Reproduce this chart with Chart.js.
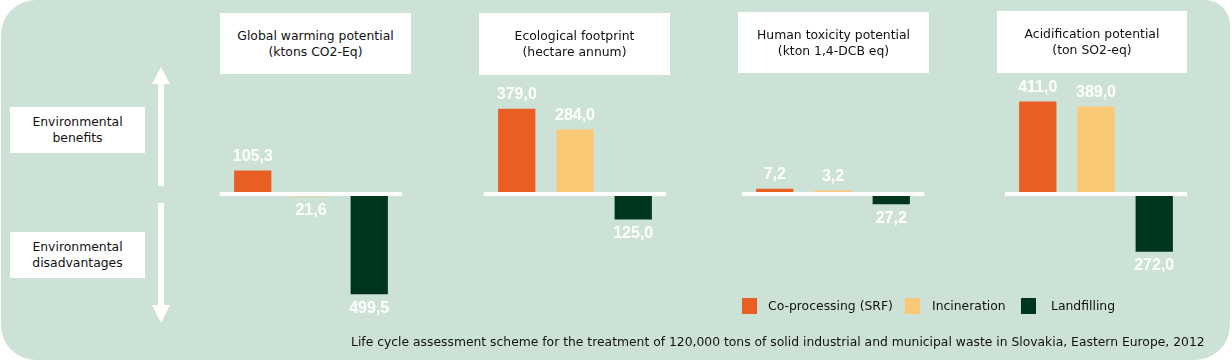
<!DOCTYPE html>
<html>
<head>
<meta charset="utf-8">
<script src="https://cdn.jsdelivr.net/npm/chart.js@4/dist/chart.umd.min.js"></script>
<style>
    body { margin: 0; background: #fff; width: 1232px; height: 362px; overflow: hidden; position: relative; font-family: "DejaVu Sans", Verdana, sans-serif; color: #111; }
    .bg { position: absolute; left: 1px; top: 0; width: 1229px; height: 360px; background: #cde2d6; border-radius: 35px 25px 35px 35px; }
    .box { position: absolute; background: #fff; display: flex; align-items: center; justify-content: center; text-align: center; font-size: 12.4px; line-height: 16px; z-index: 2; }
    .panel { position: absolute; top: 60px; width: 182px; height: 290px; z-index: 1; }
    .legend { position: absolute; top: 298px; font-size: 12.4px; line-height: 16px; z-index: 2; }
    .legend span.sw { position: absolute; top: 0; width: 15px; height: 16px; }
    .legend span.tx { position: absolute; top: 0; white-space: nowrap; }
    .caption { position: absolute; left: 351px; top: 334px; font-size: 12.35px; line-height: 16px; white-space: nowrap; z-index: 2; }
    svg { position: absolute; left: 0; top: 0; z-index: 1; }
</style>
</head>
<body>
<div class="bg"></div>

<svg width="200" height="340">
    <rect x="158" y="83" width="6" height="103" fill="#fff"/>
    <polygon points="152,84 170,84 161,67" fill="#fff"/>
    <rect x="158" y="203" width="6" height="103" fill="#fff"/>
    <polygon points="152,305 170,305 161,323" fill="#fff"/>
</svg>

<div class="box" style="left:10px;top:107px;width:135px;height:46px;">Environmental<br>benefits</div>
<div class="box" style="left:10px;top:232px;width:135px;height:46px;">Environmental<br>disadvantages</div>

<div id="titles"></div>
<canvas class="panel" id="p0" width="182" height="290" style="left:220px"></canvas>
<canvas class="panel" id="p1" width="182" height="290" style="left:484px"></canvas>
<canvas class="panel" id="p2" width="182" height="290" style="left:742px"></canvas>
<canvas class="panel" id="p3" width="182" height="290" style="left:1005px"></canvas>

<div class="legend" id="legend"></div>
<div class="caption">Life cycle assessment scheme for the treatment of 120,000 tons of solid industrial and municipal waste in Slovakia, Eastern Europe, 2012</div>

<script>
// Impact categories (one small chart each)
const impactTitles = [
    ['Global warming potential', '(ktons CO2-Eq)'],
    ['Ecological footprint', '(hectare annum)'],
    ['Human toxicity potential', '(kton 1,4-DCB eq)'],
    ['Acidification potential', '(ton SO2-eq)']
];

// Positive = environmental benefit, negative = disadvantage
const coProcessing = [105.3, 379.0, 7.2, 411.0];
const incineration = [-21.6, 284.0, 3.2, 389.0];
const landfilling = [-499.5, -125.0, -27.2, -272.0];

const seriesNames = ['Co-processing (SRF)', 'Incineration', 'Landfilling'];
const seriesColors = ['#e95e23', '#f9c874', '#01361e'];

// each panel has its own value range
const yMax = [644, 600, 293, 600];
const yMin = [-771, -718, -351, -718];

const titleBoxes = [
    { left: 220, top: 13, width: 191, height: 61 },
    { left: 479, top: 13, width: 191, height: 62 },
    { left: 738, top: 12, width: 191, height: 61 },
    { left: 997, top: 11, width: 190, height: 62 }
];

// title boxes
const titlesEl = document.getElementById('titles');
impactTitles.forEach(function(lines, i) {
    const b = titleBoxes[i];
    const div = document.createElement('div');
    div.className = 'box';
    div.style.left = b.left + 'px';
    div.style.top = b.top + 'px';
    div.style.width = b.width + 'px';
    div.style.height = b.height + 'px';
    div.innerHTML = lines.join('<br>');
    titlesEl.appendChild(div);
});

// legend
const legendPos = [[742, 768], [905, 932], [1021, 1051]];
const legendEl = document.getElementById('legend');
seriesNames.forEach(function(name, i) {
    legendEl.innerHTML += '<span class="sw" style="left:' + legendPos[i][0] + 'px;background:' + seriesColors[i] + '"></span>' +
        '<span class="tx" style="left:' + legendPos[i][1] + 'px">' + name + '</span>';
});

function formatValue(v) {
    return Math.abs(v).toFixed(1).replace('.', ',');
}

// white zero line + value labels
const decorPlugin = {
    id: 'decor',
    afterDatasetsDraw(chart) {
        const ctx = chart.ctx;
        const y0 = chart.scales.y.getPixelForValue(0);
        ctx.save();
        ctx.fillStyle = '#fff';
        ctx.fillRect(chart.chartArea.left, Math.round(y0), chart.chartArea.right - chart.chartArea.left, 4);

        ctx.font = 'bold 16px "Liberation Sans", Arial, sans-serif';
        ctx.textAlign = 'center';
        ctx.textBaseline = 'middle';
        chart.data.datasets.forEach(function(ds, di) {
            const meta = chart.getDatasetMeta(di);
            meta.data.forEach(function(bar, j) {
                const v = ds.data[j];
                const ty = v >= 0 ? bar.y - 14 : bar.y + 14;
                ctx.fillText(formatValue(v), bar.x, ty);
            });
        });
        ctx.restore();
    }
};

const allSeries = [coProcessing, incineration, landfilling];

impactTitles.forEach(function(lines, i) {
    new Chart(document.getElementById('p' + i), {
        type: 'bar',
        data: {
            labels: [lines[0]],
            datasets: allSeries.map(function(series, s) {
                return {
                    label: seriesNames[s],
                    data: [series[i]],
                    backgroundColor: seriesColors[s],
                    borderWidth: 0,
                    categoryPercentage: 0.96,
                    barPercentage: 0.64
                };
            })
        },
        options: {
            responsive: false,
            animation: false,
            layout: { padding: 0 },
            plugins: {
                legend: { display: false },
                tooltip: { enabled: false }
            },
            scales: {
                x: { display: false },
                y: { display: false, min: yMin[i], max: yMax[i] }
            }
        },
        plugins: [decorPlugin]
    });
});
</script>
</body>
</html>
